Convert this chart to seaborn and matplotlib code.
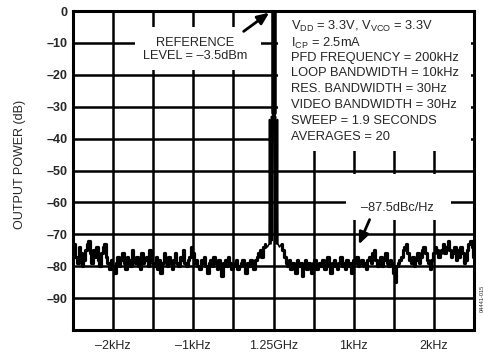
import numpy as np
import pandas as pd
import matplotlib
matplotlib.use("Agg")
import matplotlib.pyplot as plt
from matplotlib.patches import Rectangle
import seaborn as sns

# ---------------- data ----------------
# offset frequency from the 1.25GHz carrier, in Hz; power in dB
left_freq = list(range(-2500, -99, 20))
left_db = [-75, -73, -77, -79, -74, -76, -80, -78, -75, -73, -72, -76, -79, -75, -77, -74, -78, -80, -76, -74, -73, -77, -79, -81, -78, -80,
           -82, -79, -77, -80, -78, -76, -79, -81, -77, -78, -80, -75, -78, -79, -77, -80, -81, -76, -79, -78, -77, -80, -75, -78, -79,
           -80, -77, -81, -78, -82, -79, -76, -78, -80, -77, -79, -81, -78, -76, -79, -80, -77, -78, -75, -79, -80, -78, -77, -74, -76,
           -79, -78, -80, -81, -78, -79, -77, -80, -82, -79, -78, -80, -77, -79, -81, -78, -80, -83, -79, -78, -80, -77, -79, -81, -80,
           -79, -78, -81, -80, -79, -78, -80, -82, -79, -80, -78, -79, -81, -78, -77, -76, -75, -77, -74, -73]
right_freq = list(range(100, 2501, 20))
right_db = [-73, -75, -77, -79, -80, -78, -81, -79, -80, -82, -78, -80, -79, -83, -80, -78, -81, -79, -80, -82, -79, -78, -81, -80, -79,
            -80, -78, -81, -79, -77, -80, -82, -79, -78, -80, -81, -79, -77, -80, -79, -81, -78, -80, -79, -82, -78, -79, -77, -80, -79,
            -78, -80, -79, -81, -78, -77, -79, -76, -75, -78, -80, -79, -77, -80, -78, -76, -79, -80, -78, -79, -82, -85, -80, -79, -78,
            -77, -75, -74, -73, -76, -78, -79, -77, -80, -78, -76, -79, -77, -75, -74, -76, -78, -79, -81, -78, -76, -74, -75, -77, -76,
            -75, -73, -76, -74, -72, -75, -77, -76, -74, -78, -75, -77, -74, -76, -79, -78, -75, -73, -72, -74, -77]
# close-in skirt lines around the carrier
center_freq = [-100, -75, -55, -50, -45, -30, -25, -20, -8, 0, 8, 20, 25, 30, 45, 50, 55, 75, 100]
center_db = [-73, -74, -73, -34, -73, -73, -33, -72, -31, 0, -31, -72, -33, -73, -73, -34, -73, -74, -73]
# carrier core
carrier_freq = [0, 0]
carrier_db = [-32, 0]

x_tick_pos = [-2000, -1000, 0, 1000, 2000]
x_tick_labels = ["–2kHz", "–1kHz", "1.25GHz", "1kHz", "2kHz"]
y_tick_pos = [0, -10, -20, -30, -40, -50, -60, -70, -80, -90]
y_tick_labels = ["0", "–10", "–20", "–30", "–40", "–50", "–60", "–70", "–80", "–90"]

conditions = [
    r"V$_{\mathregular{DD}}$ = 3.3V, V$_{\mathregular{VCO}}$ = 3.3V",
    r"I$_{\mathregular{CP}}$ = 2.5mA",
    "PFD FREQUENCY = 200kHz",
    "LOOP BANDWIDTH = 10kHz",
    "RES. BANDWIDTH = 30Hz",
    "VIDEO BANDWIDTH = 30Hz",
    "SWEEP = 1.9 SECONDS",
    "AVERAGES = 20",
]

# ---------------- figure ----------------
sns.set_style("white")
plt.rcParams["font.family"] = ["Liberation Sans", "DejaVu Sans"]
plt.rcParams["mathtext.fontset"] = "custom"
plt.rcParams["mathtext.rm"] = "Liberation Sans"
plt.rcParams["mathtext.it"] = "Liberation Sans"

noise_left = pd.DataFrame({"freq": left_freq, "db": left_db})
noise_right = pd.DataFrame({"freq": right_freq, "db": right_db})
skirt = pd.DataFrame({"freq": center_freq, "db": center_db})
core = pd.DataFrame({"freq": carrier_freq, "db": carrier_db})

fig = plt.figure(figsize=(4.84, 3.56), dpi=100)
ax = fig.add_axes([73 / 484, 1 - 330 / 356, 401 / 484, 319 / 356])

for d in (noise_left, noise_right):
    sns.lineplot(data=d, x="freq", y="db", ax=ax, color="black", lw=2.3,
                 sort=False, estimator=None, zorder=3, drawstyle="steps-mid")
sns.lineplot(data=skirt, x="freq", y="db", ax=ax, color="black", lw=1.1,
             sort=False, estimator=None, zorder=3)
sns.lineplot(data=core, x="freq", y="db", ax=ax, color="black", lw=4.0,
             sort=False, estimator=None, zorder=3)

ax.set_xlim(-2500, 2500)
ax.set_ylim(-100, 0)

# grid every 500 Hz / 10 dB
ax.set_xticks(np.arange(-2500, 2501, 500), minor=True)
ax.set_yticks(np.arange(-100, 1, 10), minor=True)
ax.set_xticks(x_tick_pos)
ax.set_xticklabels(x_tick_labels, fontsize=9)
ax.set_yticks(y_tick_pos)
ax.set_yticklabels(y_tick_labels, fontsize=9, fontweight="bold")
ax.grid(True, which="both", color="black", lw=1.8)
ax.set_axisbelow(True)
ax.tick_params(axis="both", which="both", length=0)
ax.tick_params(axis="x", pad=7)
ax.tick_params(axis="y", pad=4)
for s in ax.spines.values():
    s.set_color("black")
    s.set_linewidth(2.2)
    s.set_zorder(5)

ax.set_xlabel("")
ax.set_ylabel("OUTPUT POWER (dB)", fontsize=9)
ax.yaxis.set_label_coords(-0.118, 0.52)

# white boxes hiding grid behind annotations
for (x0, y0, w, h) in [(50, -44.0, 2410, 43.4),
                       (-1725, -18.5, 1563, 13.5),
                       (900, -65.5, 1312, 14.3)]:
    ax.add_patch(Rectangle((x0, y0), w, h, facecolor="white", edgecolor="none", zorder=2))

# conditions text
ys = [26, 43, 58, 73, 89, 105, 121, 137]
for t, yp in zip(conditions, ys):
    ax.text(212, -(yp - 11) / 31.9 * 10, t, fontsize=9.3, ha="left", va="center", zorder=4)

ax.text(-975, -12.2, "REFERENCE\nLEVEL = –3.5dBm", fontsize=9.2, ha="center",
        va="center", multialignment="center", linespacing=1.1, zorder=4)
ax.annotate("", xy=(-25, 0), xytext=(-400, -6.9),
            arrowprops=dict(arrowstyle="-|>,head_length=0.7,head_width=0.3",
                            color="black", lw=2.0), zorder=4)

ax.text(1550, -61.6, "–87.5dBc/Hz", fontsize=9.2, ha="center", va="center", zorder=4)
ax.annotate("", xy=(1050, -74), xytext=(1212, -64.6),
            arrowprops=dict(arrowstyle="-|>,head_length=0.7,head_width=0.3",
                            color="black", lw=2.0), zorder=4)

fig.text(482 / 484, 1 - 298 / 356, "04441-015", rotation=90, fontsize=4,
         ha="center", va="center")

fig.savefig("out.png", dpi=100)
